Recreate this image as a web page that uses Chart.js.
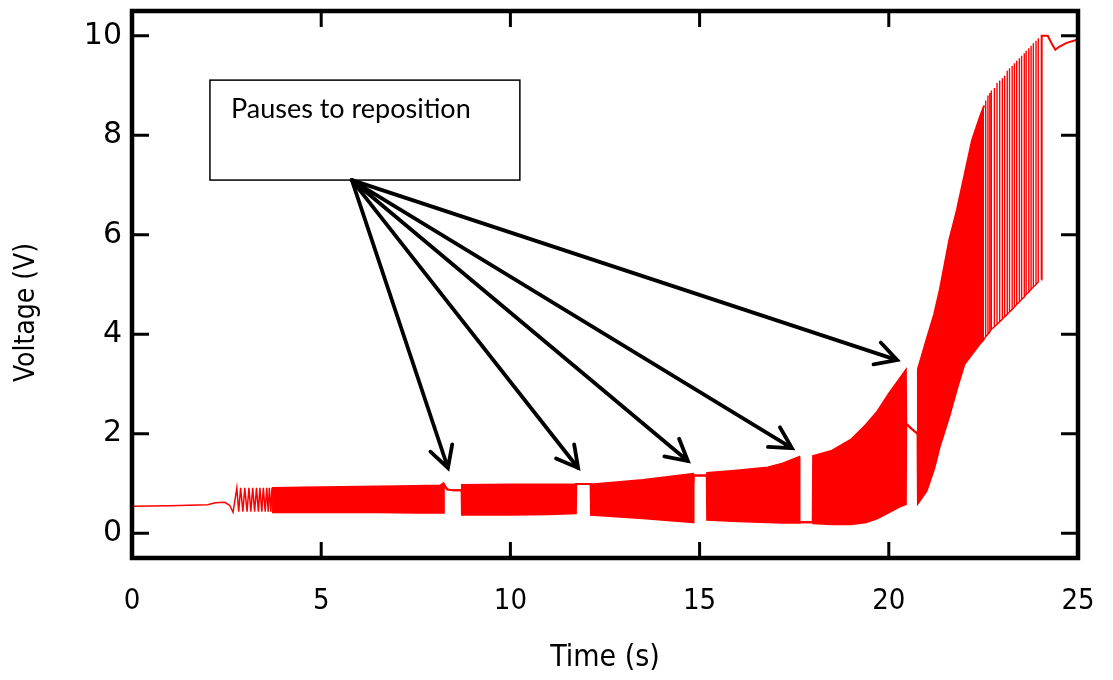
<!DOCTYPE html>
<html>
<head>
<meta charset="utf-8">
<script src="https://cdn.jsdelivr.net/npm/chart.js@4.4.0/dist/chart.umd.min.js"></script>
<style>
  html, body { margin: 0; padding: 0; background: #fff; }
</style>
</head>
<body>
<canvas id="voltageChart" width="1113" height="680"></canvas>
<script>
// axis ticks
const xTicks = [0, 5, 10, 15, 20, 25];
const yTicks = [0, 2, 4, 6, 8, 10];

// single trace: idle level, then the first slow cycles
const startT = [0, 1.0, 2.0, 2.2, 2.45, 2.58, 2.67,
  2.77, 2.82, 2.87, 2.93, 2.98, 3.04, 3.09, 3.14, 3.19, 3.24, 3.29,
  3.34, 3.38, 3.43, 3.47, 3.52, 3.56, 3.60, 3.63, 3.67, 3.70];
const startV = [0.54, 0.55, 0.57, 0.61, 0.62, 0.56, 0.42,
  0.91, 0.43, 0.91, 0.43, 0.91, 0.43, 0.91, 0.43, 0.91, 0.43, 0.91,
  0.43, 0.91, 0.43, 0.91, 0.43, 0.91, 0.43, 0.91, 0.43, 0.91];

// dense oscillation, top and bottom of the band (equal = pause, single line)
const envT    = [3.70, 4.5, 5.5, 6.5, 7.5, 8.15, 8.23, 8.24, 8.33, 8.50, 8.71,
  8.72, 10.0, 11.0, 11.73, 11.74, 12.12, 12.13, 13.5, 14.83, 14.84, 15.19,
  15.20, 16.0, 16.8, 17.2, 17.63, 17.64, 17.99, 18.0, 18.5, 19.0, 19.4, 19.7,
  20.0, 20.3, 20.45, 20.46, 20.60, 20.76, 20.77, 21.0, 21.2, 21.35, 21.6,
  21.8, 22.0, 22.2, 22.40, 22.52];
const envHigh = [0.91, 0.92, 0.93, 0.94, 0.95, 0.96, 1.00, 0.98, 0.88, 0.86, 0.86,
  0.97, 0.98, 0.98, 0.98, 0.99, 0.99, 0.98, 1.07, 1.19, 1.16, 1.16,
  1.21, 1.26, 1.32, 1.40, 1.53, 0.22, 0.22, 1.55, 1.66, 1.88, 2.18, 2.45,
  2.80, 3.12, 3.28, 2.20, 2.10, 2.00, 3.30, 3.90, 4.40, 4.90, 5.90,
  6.50, 7.20, 7.90, 8.35, 8.60];
const envLow  = [0.42, 0.42, 0.42, 0.42, 0.41, 0.41, 0.41, 0.98, 0.88, 0.86, 0.86,
  0.37, 0.37, 0.38, 0.40, 0.99, 0.99, 0.37, 0.30, 0.22, 1.16, 1.16,
  0.27, 0.24, 0.22, 0.21, 0.21, 0.22, 0.22, 0.20, 0.18, 0.18, 0.22, 0.30,
  0.42, 0.54, 0.58, 2.20, 2.10, 2.00, 0.60, 0.85, 1.30, 1.75, 2.35,
  2.90, 3.40, 3.60, 3.80, 3.90];

// separate spikes before the level settles at 10 V
const spikeT   = [22.56, 22.62, 22.67, 22.71, 22.79, 22.86, 22.93, 23.00, 23.06,
  23.13, 23.19, 23.26, 23.32, 23.38, 23.45, 23.51, 23.58, 23.63, 23.70, 23.76, 23.82, 23.89, 23.95];
const spikeTop = [8.70, 8.80, 8.85, 8.90, 8.95, 9.05, 9.10, 9.15, 9.20,
  9.30, 9.35, 9.40, 9.45, 9.50, 9.55, 9.60, 9.65, 9.70, 9.75, 9.80, 9.85, 9.90, 9.95];
const spikeLow = [3.95, 4.00, 4.05, 4.10, 4.15, 4.20, 4.25, 4.30, 4.35,
  4.40, 4.45, 4.50, 4.55, 4.60, 4.65, 4.70, 4.75, 4.80, 4.85, 4.90, 4.95, 5.00, 5.05];
const tailT = [24.03, 24.04, 24.20, 24.30, 24.40, 24.50, 24.70, 25.0];
const tailV = [5.10, 10.0, 10.0, 9.85, 9.72, 9.78, 9.86, 9.93];

// annotation (data units)
const noteText = 'Pauses to reposition';
const noteBox = { x1: 2.06, y1: 9.11, x2: 10.25, y2: 7.10 };
const arrowFrom = { x: 5.81, y: 7.10 };
const arrowTo = [
  { x: 8.35, y: 1.31 }, { x: 11.79, y: 1.31 }, { x: 14.69, y: 1.45 },
  { x: 17.44, y: 1.71 }, { x: 20.22, y: 3.48 }
];

const RED = '#ff0000';
const yTickFont = { family: 'DejaVu Sans', size: 30 };
const xTickFont = { family: "'DejaVu Sans Condensed', 'Liberation Sans Narrow', 'DejaVu Sans'", size: 29 };
const xTitleFont = { family: "'DejaVu Sans Condensed', 'Liberation Sans Narrow', 'DejaVu Sans'", size: 30 };
const yTitleFont = { family: "'Liberation Sans Narrow', 'DejaVu Sans Condensed', 'DejaVu Sans'", size: 28 };

function pts(xs, ys) {
  return xs.map((x, i) => ({ x: x, y: ys[i] }));
}

// each spike: up and back down at the same time, joined along the bottom
const spikePts = [{ x: envT[envT.length - 1], y: envLow[envLow.length - 1] }];
spikeT.forEach((t, i) => {
  spikePts.push({ x: t, y: spikeLow[i] }, { x: t, y: spikeTop[i] }, { x: t, y: spikeLow[i] });
});

// frame with inward ticks on all four sides
const framePlugin = {
  id: 'frame',
  afterDatasetsDraw(chart) {
    const { ctx, chartArea: a, scales: { x, y } } = chart;
    ctx.save();
    ctx.strokeStyle = '#000';
    ctx.lineWidth = 3;
    ctx.beginPath();
    xTicks.forEach(v => {
      const px = x.getPixelForValue(v);
      ctx.moveTo(px, a.bottom); ctx.lineTo(px, a.bottom - 16);
      ctx.moveTo(px, a.top); ctx.lineTo(px, a.top + 16);
    });
    yTicks.forEach(v => {
      const py = y.getPixelForValue(v);
      ctx.moveTo(a.left, py); ctx.lineTo(a.left + 17, py);
      ctx.moveTo(a.right, py); ctx.lineTo(a.right - 17, py);
    });
    ctx.stroke();
    ctx.lineWidth = 4.5;
    ctx.strokeRect(a.left, a.top, a.right - a.left, a.bottom - a.top);
    ctx.restore();
  }
};

// text box with arrows to the pauses
const notePlugin = {
  id: 'note',
  afterDraw(chart) {
    const { ctx, scales: { x, y } } = chart;
    ctx.save();
    const bx1 = x.getPixelForValue(noteBox.x1), bx2 = x.getPixelForValue(noteBox.x2);
    const by1 = y.getPixelForValue(noteBox.y1), by2 = y.getPixelForValue(noteBox.y2);
    ctx.fillStyle = '#fff';
    ctx.fillRect(bx1, by1, bx2 - bx1, by2 - by1);
    ctx.strokeStyle = '#000';
    ctx.lineWidth = 1.5;
    ctx.strokeRect(bx1, by1, bx2 - bx1, by2 - by1);
    ctx.fillStyle = '#000';
    ctx.font = '27px Lato';
    ctx.textBaseline = 'alphabetic';
    ctx.fillText(noteText, bx1 + 21, by1 + 38);

    const sx = x.getPixelForValue(arrowFrom.x), sy = y.getPixelForValue(arrowFrom.y);
    ctx.lineWidth = 3.8;
    ctx.lineCap = 'round';
    arrowTo.forEach(p => {
      const ex = x.getPixelForValue(p.x), ey = y.getPixelForValue(p.y);
      const ang = Math.atan2(ey - sy, ex - sx);
      const head = 24, spread = 0.5;
      ctx.beginPath();
      ctx.moveTo(sx, sy);
      ctx.lineTo(ex, ey);
      ctx.moveTo(ex - head * Math.cos(ang - spread), ey - head * Math.sin(ang - spread));
      ctx.lineTo(ex, ey);
      ctx.lineTo(ex - head * Math.cos(ang + spread), ey - head * Math.sin(ang + spread));
      ctx.stroke();
    });
    ctx.restore();
  }
};

// keep the plot frame exactly where the scales put it
function noScalePadding(s) {
  s.paddingTop = 0; s.paddingBottom = 0; s.paddingLeft = 0; s.paddingRight = 0;
}

new Chart(document.getElementById('voltageChart'), {
  type: 'line',
  data: {
    datasets: [
      { data: pts(startT, startV), borderColor: RED, borderWidth: 1.5, fill: false },
      { data: pts(envT, envHigh), borderColor: RED, backgroundColor: RED, borderWidth: 2, fill: '+1' },
      { data: pts(envT, envLow), borderColor: RED, borderWidth: 2, fill: false },
      { data: spikePts, borderColor: RED, borderWidth: 1.4, fill: false },
      { data: pts(tailT, tailV), borderColor: RED, borderWidth: 2, fill: false }
    ]
  },
  options: {
    responsive: false,
    animation: false,
    devicePixelRatio: 1,
    elements: { point: { radius: 0 }, line: { tension: 0 } },
    layout: { padding: { top: 11, right: 35, left: 0, bottom: 0 } },
    plugins: {
      legend: { display: false },
      tooltip: { enabled: false }
    },
    scales: {
      x: {
        type: 'linear',
        min: 0,
        max: 25,
        afterFit: s => { s.height = 122; noScalePadding(s); },
        afterBuildTicks: s => { s.ticks = xTicks.map(v => ({ value: v })); },
        grid: { display: false, drawTicks: false },
        border: { display: false },
        ticks: { font: xTickFont, color: '#000', padding: 26, maxRotation: 0, autoSkip: false },
        title: { display: true, text: 'Time (s)', font: xTitleFont, color: '#000', padding: { top: 0, bottom: 4 } }
      },
      y: {
        type: 'linear',
        min: -0.5,
        max: 10.5,
        afterFit: s => { s.width = 132; noScalePadding(s); },
        afterBuildTicks: s => { s.ticks = yTicks.map(v => ({ value: v })); },
        grid: { display: false, drawTicks: false },
        border: { display: false },
        ticks: { font: yTickFont, color: '#000', padding: 10, autoSkip: false },
        title: { display: true, text: 'Voltage (V)       ', font: yTitleFont, color: '#000', padding: { top: 10, bottom: 0 } }
      }
    }
  },
  plugins: [framePlugin, notePlugin]
});
</script>
</body>
</html>
